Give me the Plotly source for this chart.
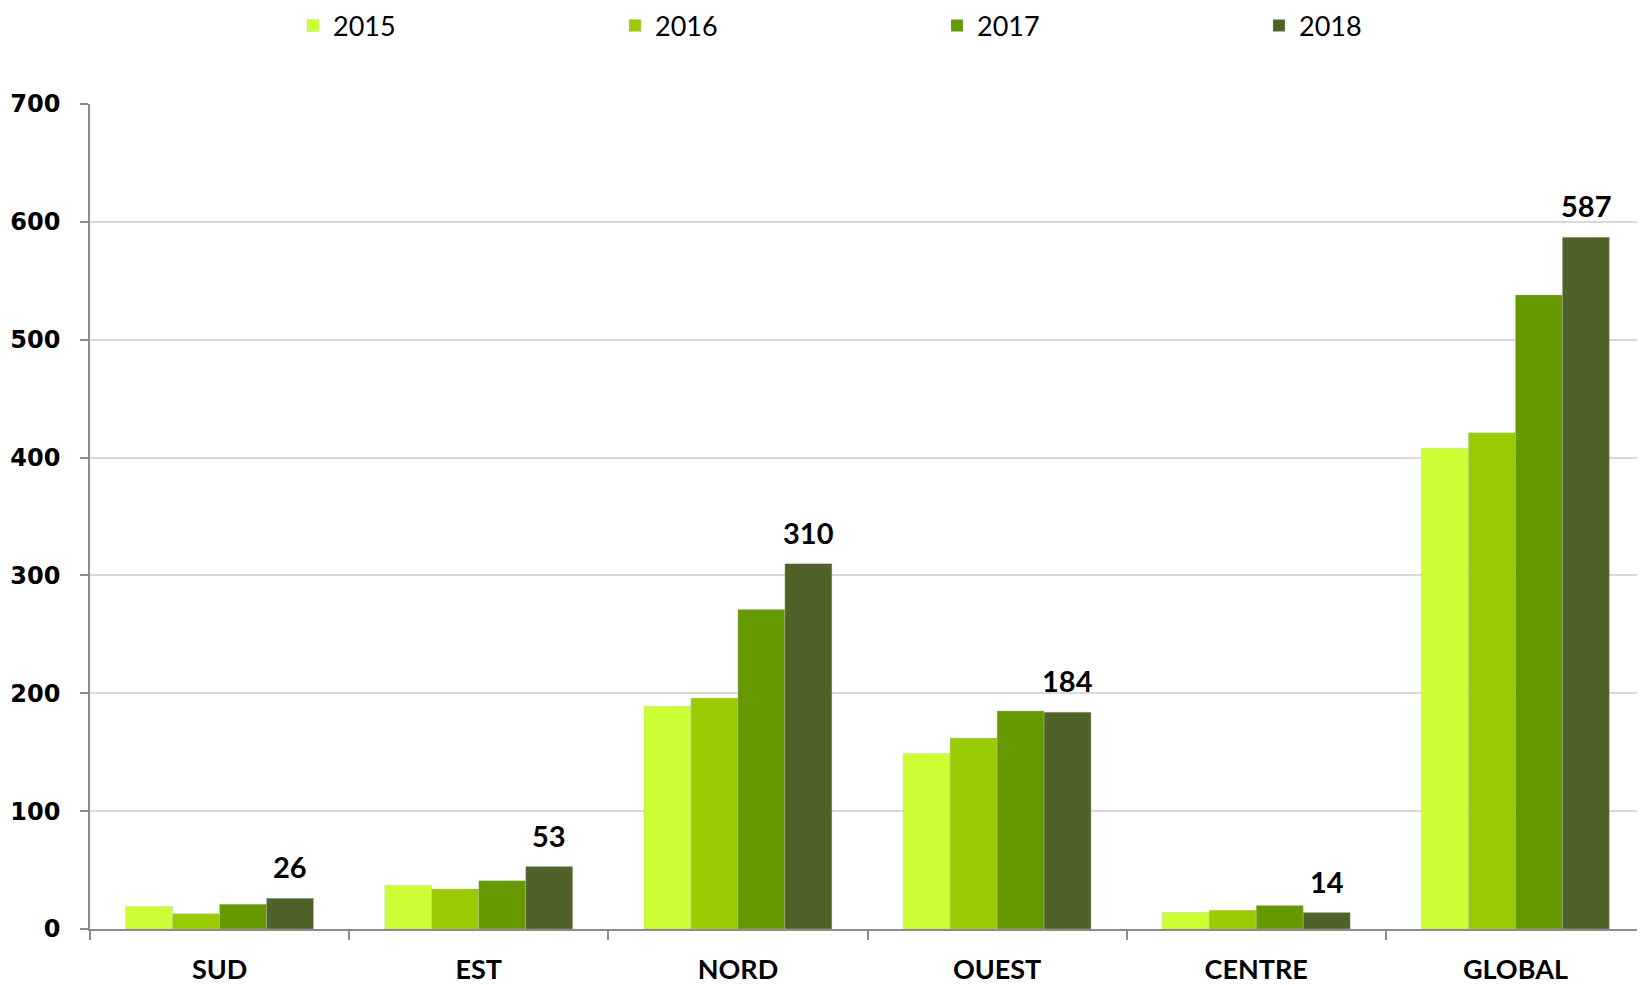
import plotly.graph_objects as go

categories = ["SUD", "EST", "NORD", "OUEST", "CENTRE", "GLOBAL"]
years = ["2015", "2016", "2017", "2018"]
v2015 = [19, 37, 189, 149, 14, 408]
v2016 = [13, 34, 196, 162, 16, 421]
v2017 = [21, 41, 271, 185, 20, 538]
v2018 = [26, 53, 310, 184, 14, 587]
series = [v2015, v2016, v2017, v2018]
colors = ["#CCFF33", "#99CC00", "#669900", "#4F6228"]
y_ticks = [0, 100, 200, 300, 400, 500, 600, 700]

BARGAP = 0.275

fig = go.Figure()
for yr, vals, col in zip(years, series, colors):
    fig.add_trace(go.Bar(
        x=categories, y=vals, name=yr,
        marker=dict(color=col, line=dict(color="rgba(190,190,190,0.6)", width=0.6)),
    ))

# value labels above the 2018 bars (last bar of each group)
n = len(years)
bar_w = (1 - BARGAP) / n
offset = bar_w * (n - 1) / 2
for i, v in enumerate(v2018):
    fig.add_annotation(
        x=i + offset, y=v, xref="x", yref="y",
        text=str(v), showarrow=False, yanchor="bottom", yshift=12,
        font=dict(family="Lato", size=29, color="#000000", weight="bold"),
    )

# page body has an 8px margin, so the figure is sized to fit the window
fig.update_layout(
    width=1637, height=977,
    margin=dict(l=82, r=0, t=96, b=54),
    paper_bgcolor="white", plot_bgcolor="white",
    barmode="group", bargap=BARGAP, bargroupgap=0,
    showlegend=True,
    legend=dict(
        orientation="h", xref="container", yref="container",
        x=0.1741, xanchor="left", y=0.9815, yanchor="middle",
        entrywidth=277, entrywidthmode="pixels",
        font=dict(family="Lato", size=27, color="#000000"),
        itemwidth=30, traceorder="normal", bgcolor="rgba(0,0,0,0)",
    ),
    font=dict(family="Lato"),
)
fig.update_yaxes(
    range=[0, 700], tickvals=y_ticks,
    showgrid=True, gridcolor="#D9D9D9", gridwidth=1.5,
    showline=True, linecolor="#8C8C8C", linewidth=1.5,
    ticks="outside", ticklen=8, tickcolor="#8C8C8C", tickwidth=1.5,
    tickfont=dict(family="DejaVu Sans", size=24, color="#000000", weight="bold"),
    ticklabelstandoff=15,
    zeroline=False,
)
fig.update_xaxes(
    showline=True, linecolor="#8C8C8C", linewidth=1.5,
    ticks="outside", tickson="boundaries", ticklen=9, tickcolor="#8C8C8C", tickwidth=1.5,
    tickfont=dict(family="Lato", size=27, color="#000000", weight="bold"),
    ticklabelstandoff=16,
)

fig.write_html("out.html")
